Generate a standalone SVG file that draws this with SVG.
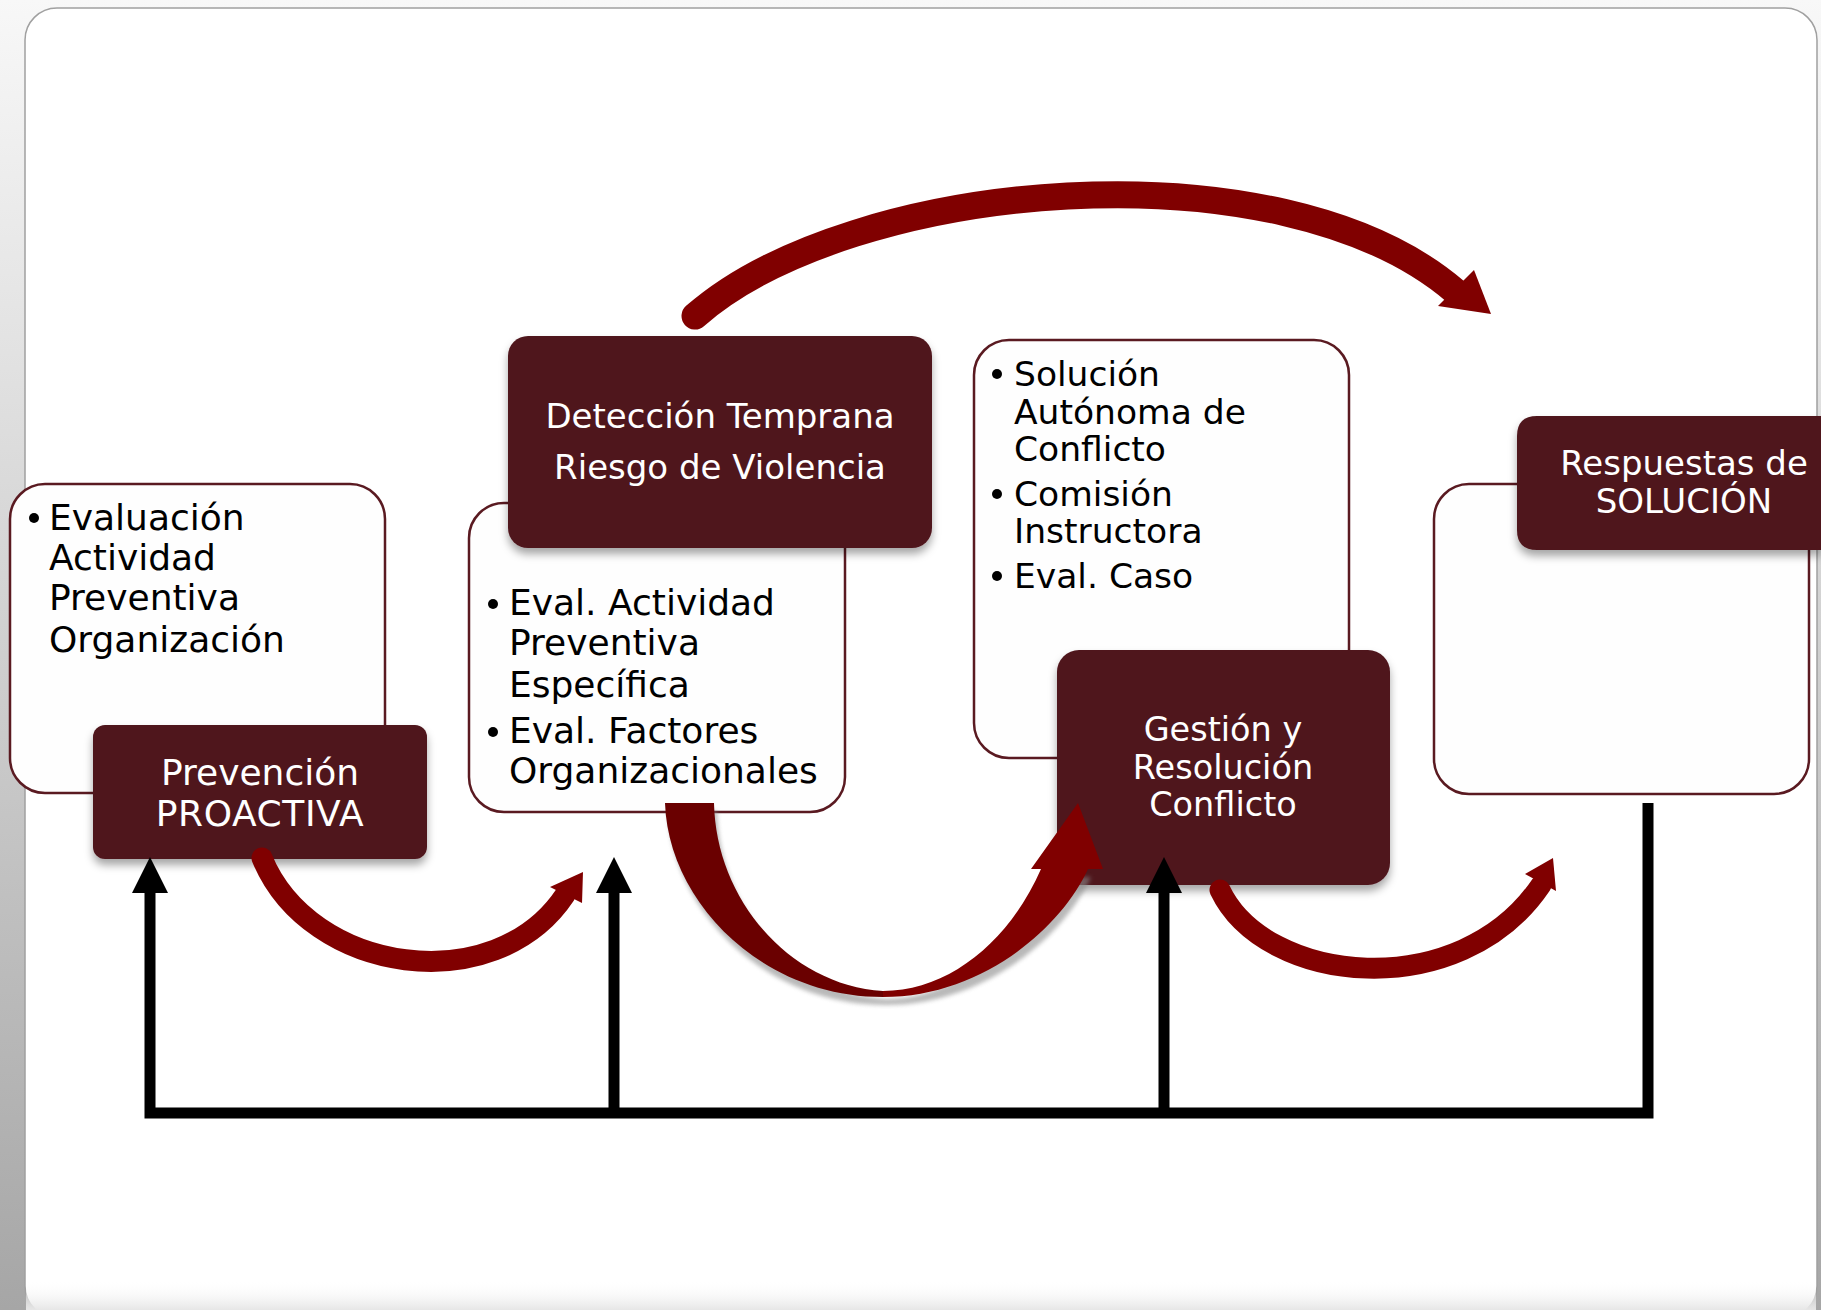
<svg xmlns="http://www.w3.org/2000/svg" width="1821" height="1310" viewBox="0 0 1821 1310">
  <defs>
    <linearGradient id="bg" x1="0" y1="0" x2="0" y2="1">
      <stop offset="0" stop-color="#f8f8f8"/>
      <stop offset="1" stop-color="#a6a6a6"/>
    </linearGradient>
    <linearGradient id="foot" x1="0" y1="0" x2="0" y2="1">
      <stop offset="0" stop-color="#ffffff" stop-opacity="0"/>
      <stop offset="1" stop-color="#e6e6e6"/>
    </linearGradient>
    <filter id="shadow" x="-10%" y="-10%" width="120%" height="130%">
      <feDropShadow dx="0" dy="6" stdDeviation="4" flood-color="#000" flood-opacity="0.35"/>
    </filter>
    <filter id="blur" x="-10%" y="-10%" width="120%" height="130%">
      <feGaussianBlur stdDeviation="2"/>
    </filter>
  </defs>
  <style>
    .list { fill: #fefefe; stroke: #5a1a21; stroke-width: 2.5; }
    .title { fill: #4f161d; filter: url(#shadow); }
    .wt { fill: #ffffff; font-family: "DejaVu Sans", Verdana, sans-serif; text-anchor: middle; }
    .bt { fill: #000000; font-family: "DejaVu Sans", Verdana, sans-serif; }
    .bul { fill: #000000; }
    .red { fill: none; stroke: #800000; stroke-linecap: round; }
    .redfill { fill: #800000; }
    .bus { fill: none; stroke: #000; stroke-width: 11; stroke-linejoin: miter; }
  </style>

  <!-- page background -->
  <rect x="0" y="0" width="1821" height="1310" fill="url(#bg)"/>
  <rect x="25" y="8" width="1792" height="1310" rx="32" fill="#ffffff" stroke="#a0a0a0" stroke-width="1.5"/>
  <rect x="26" y="1280" width="1790" height="30" fill="url(#foot)"/>

  <!-- Node 1 -->
  <g id="node-evaluacion">
    <rect class="list" x="10" y="484" width="375" height="309" rx="35"/>
    <circle class="bul" cx="34" cy="518" r="5"/>
    <text class="bt" font-size="36" x="49" y="530">Evaluación</text>
    <text class="bt" font-size="36" x="49" y="570">Actividad</text>
    <text class="bt" font-size="36" x="49" y="610">Preventiva</text>
    <text class="bt" font-size="36" x="49" y="652">Organización</text>
  </g>
  <g id="node-prevencion">
    <rect class="title" x="93" y="725" width="334" height="134" rx="12"/>
    <text class="wt" font-size="36" x="260" y="785">Prevención</text>
    <text class="wt" font-size="36" x="260" y="826" letter-spacing="0.6">PROACTIVA</text>
  </g>

  <!-- Node 2 -->
  <g id="node-eval-actividad">
    <rect class="list" x="469" y="503" width="376" height="309" rx="35"/>
    <circle class="bul" cx="493" cy="604" r="5"/>
    <text class="bt" font-size="36" x="509" y="615">Eval. Actividad</text>
    <text class="bt" font-size="36" x="509" y="655">Preventiva</text>
    <text class="bt" font-size="36" x="509" y="697">Específica</text>
    <circle class="bul" cx="493" cy="732" r="5"/>
    <text class="bt" font-size="36" x="509" y="743">Eval. Factores</text>
    <text class="bt" font-size="36" x="509" y="783">Organizacionales</text>
  </g>
  <g id="node-deteccion">
    <rect class="title" x="508" y="336" width="424" height="212" rx="20"/>
    <text class="wt" font-size="34" x="720" y="428">Detección Temprana</text>
    <text class="wt" font-size="34" x="720" y="479">Riesgo de Violencia</text>
  </g>

  <!-- Node 3 -->
  <g id="node-solucion">
    <rect class="list" x="974" y="340" width="375" height="418" rx="35"/>
    <circle class="bul" cx="997" cy="374" r="5"/>
    <text class="bt" font-size="34.5" x="1014" y="386">Solución</text>
    <text class="bt" font-size="34.5" x="1014" y="424">Autónoma de</text>
    <text class="bt" font-size="34.5" x="1014" y="461">Conflicto</text>
    <circle class="bul" cx="997" cy="494" r="5"/>
    <text class="bt" font-size="34.5" x="1014" y="506">Comisión</text>
    <text class="bt" font-size="34.5" x="1014" y="543">Instructora</text>
    <circle class="bul" cx="997" cy="576" r="5"/>
    <text class="bt" font-size="34.5" x="1014" y="588">Eval. Caso</text>
  </g>
  <g id="node-gestion">
    <rect class="title" x="1057" y="650" width="333" height="235" rx="22"/>
    <text class="wt" font-size="33.5" x="1223" y="741">Gestión y</text>
    <text class="wt" font-size="33.5" x="1223" y="779">Resolución</text>
    <text class="wt" font-size="33.5" x="1223" y="816">Conflicto</text>
  </g>

  <!-- Node 4 -->
  <g id="node-respuestas-lista">
    <rect class="list" x="1434" y="484" width="375" height="310" rx="35"/>
  </g>
  <g id="node-respuestas">
    <path class="title" d="M1537 416 H1821 V550 H1537 Q1517 550 1517 530 V436 Q1517 416 1537 416 Z"/>
    <text class="wt" font-size="34" x="1684" y="475">Respuestas de</text>
    <text class="wt" font-size="34" x="1684" y="513">SOLUCIÓN</text>
  </g>

  <!-- Connectors -->
  <g id="connectors">
    <!-- black feedback bus -->
    <path class="bus" d="M150 892 V1113 H1648 V803"/>
    <path class="bus" d="M614 892 V1113"/>
    <path class="bus" d="M1164 892 V1113"/>
    <polygon fill="#000" points="150,857 132,893 168,893"/>
    <polygon fill="#000" points="614,857 596,893 632,893"/>
    <polygon fill="#000" points="1164,857 1146,893 1182,893"/>

    <!-- top arc -->
    <path class="red" stroke-width="27" d="M695 316 C850 180 1280 140 1456 292"/>
    <polygon class="redfill" points="1438,306 1474,270 1491,314"/>

    <!-- lower-left arc -->
    <path class="red" stroke-width="21" d="M262 858 C310 975 495 1000 565 895"/>
    <polygon class="redfill" points="550,887 583,872 582,903"/>

    <!-- lower-right arc -->
    <path class="red" stroke-width="21" d="M1220 890 C1265 985 1460 1005 1541 885"/>
    <polygon class="redfill" points="1525,874 1553,858 1556,891"/>

    <!-- big curved arrow -->
    <g>
      <path fill="#8a8a8a" opacity="0.6" filter="url(#blur)" transform="translate(3,8)"
            d="M665 803 C668 900 760 997 883 997 C980 997 1060 930 1088 869 L1040 869 C1010 940 950 991 883 991 C790 985 716 900 714 803 Z"/>
      <path fill="#6a0000" d="M665 803 H714 C716 900 790 985 883 991 L883 997 C760 997 668 900 665 803 Z"/>
      <path fill="#800000" d="M883 997 C980 997 1060 930 1088 869 L1103 869 L1078 803 L1031 869 L1041 869 C1010 940 950 991 883 991 Z"/>
    </g>
  </g>
</svg>
